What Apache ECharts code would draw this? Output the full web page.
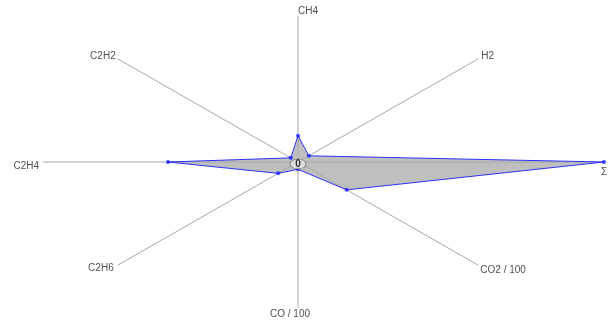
<!DOCTYPE html>
<html><head><meta charset="utf-8">
<script src="https://cdn.jsdelivr.net/npm/echarts@6/dist/echarts.min.js"></script>
<style>html,body{margin:0;padding:0;background:#fff}#c{width:611px;height:321px}</style>
</head><body><div id="c"></div>
<script>
// Axes, clockwise from the top
const axisNames = ['CH4', 'H2', 'Σ', 'CO2 / 100', 'CO / 100', 'C2H6', 'C2H4', 'C2H2'];
const axisMax = [100, 100, 100, 100, 100, 100, 100, 100];
const values = [18, 6, 120, 27, 5, 11, 51, 4];
const centerLabel = '0';

// label placement (style only)
const labelStyles = [
  {align: 'left', offset: [0, -5]},
  {align: 'left', offset: [3, -3]},
  {align: 'center', offset: [0, 10]},
  {align: 'left', offset: [2, 5]},
  {align: 'center', offset: [-8, 6]},
  {align: 'right', offset: [-4, 3]},
  {align: 'right', offset: [-4, 4]},
  {align: 'right', offset: [-2, -3]}
];

const n = axisNames.length;
function dir(i) {
  const t = (90 - 360 / n * i) * Math.PI / 180;
  return [Math.cos(t), Math.sin(t)];
}
const ratios = values.map((v, i) => v / axisMax[i]);
const pts = ratios.map((r, i) => { const d = dir(i); return [d[0] * r, d[1] * r]; });
const spokeEnds = ratios.map((r, i) => { const d = dir(i); const L = Math.max(1, r); return [d[0] * L, d[1] * L]; });

const chart = echarts.init(document.getElementById('c'), null, {renderer: 'canvas'});
const font = '"Liberation Sans", Arial, sans-serif';
chart.setOption({
  animation: false,
  backgroundColor: '#fff',
  grid: {left: 43, right: 7, top: 16, bottom: 13, containLabel: false},
  xAxis: {type: 'value', min: -1, max: 1.2, show: false},
  yAxis: {type: 'value', min: -1, max: 1, show: false},
  series: [
    {
      type: 'custom', silent: true, z: 1,
      data: spokeEnds,
      renderItem: (params, api) => {
        const a = api.coord([0, 0]);
        const b = api.coord([api.value(0), api.value(1)]);
        return {type: 'line', shape: {x1: a[0], y1: a[1], x2: b[0], y2: b[1]},
          style: {stroke: '#a8a8a8', lineWidth: 1}};
      }
    },
    {
      type: 'custom', silent: true, z: 2,
      data: [0],
      renderItem: (params, api) => {
        const p = pts.map(q => api.coord(q));
        return {type: 'polygon', shape: {points: p},
          style: {fill: 'rgba(170,170,170,0.75)', stroke: '#3030ff', lineWidth: 1}};
      }
    },
    {
      type: 'scatter', z: 3, silent: true,
      data: pts, symbol: 'circle', symbolSize: 4,
      itemStyle: {color: '#1a1aff'}
    },
    {
      type: 'scatter', z: 4, silent: true,
      data: [[0, 0]], symbol: 'circle', symbolSize: [16, 10], symbolOffset: [0, 2],
      itemStyle: {color: '#e6e6e6', borderColor: '#808080', borderWidth: 1},
      label: {show: true, position: 'inside', formatter: centerLabel, color: '#000', fontSize: 10, fontWeight: 'bold', fontFamily: font}
    },
    {
      type: 'scatter', z: 5, silent: true,
      symbolSize: 0,
      data: spokeEnds.map((p, i) => ({
        value: p,
        label: {show: true, position: 'inside', formatter: axisNames[i],
          align: labelStyles[i].align, verticalAlign: 'middle', offset: labelStyles[i].offset,
          color: '#222', fontSize: 10, fontFamily: font}
      }))
    }
  ]
});
</script>
</body></html>
